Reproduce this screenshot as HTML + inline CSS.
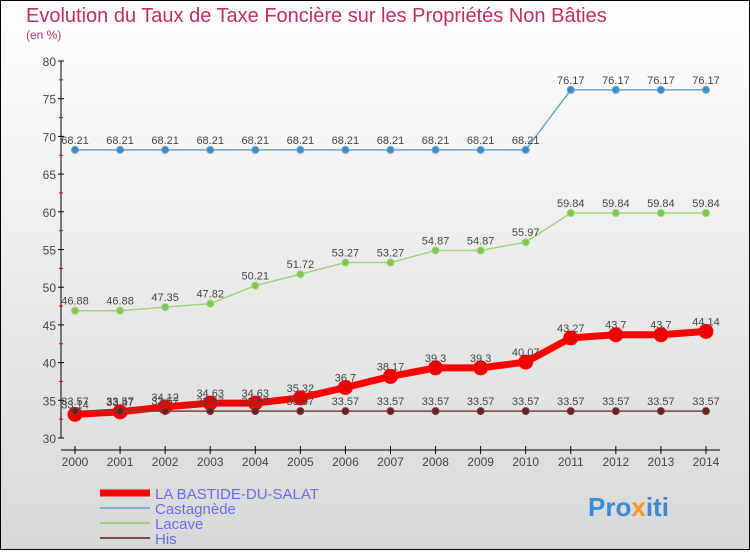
<!DOCTYPE html>
<html><head><meta charset="utf-8"><style>
body{margin:0;}
#c{width:750px;height:550px;position:relative;font-family:"Liberation Sans",sans-serif;}
</style></head><body>
<div id="c">
<svg id="s" width="750" height="550" xmlns="http://www.w3.org/2000/svg">
<defs><linearGradient id="bg" x1="0" y1="0" x2="0" y2="1"><stop offset="0" stop-color="#ffffff"/><stop offset="1" stop-color="#d8d8d8"/></linearGradient></defs>
<rect x="0.5" y="0.5" width="749" height="549" fill="url(#bg)" stroke="#000"/>
<text x="26" y="22" font-size="20" fill="#c0305f">Evolution du Taux de Taxe Foncière sur les Propriétés Non Bâties</text>
<text x="26" y="39" font-size="12" fill="#c0305f">(en %)</text>
<g id="g"></g>
<text x="588" y="516" font-size="26" font-weight="bold" fill="#3a8ad6">Pro<tspan fill="#f29a1e">x</tspan>iti</text>
</svg></div>
<script>
const years=[2000,2001,2002,2003,2004,2005,2006,2007,2008,2009,2010,2011,2012,2013,2014];
const bastide=[33.14,33.47,34.12,34.63,34.63,35.32,36.7,38.17,39.3,39.3,40.07,43.27,43.7,43.7,44.14];
const castagnede=[68.21,68.21,68.21,68.21,68.21,68.21,68.21,68.21,68.21,68.21,68.21,76.17,76.17,76.17,76.17];
const lacave=[46.88,46.88,47.35,47.82,50.21,51.72,53.27,53.27,54.87,54.87,55.97,59.84,59.84,59.84,59.84];
const his=[33.57,33.57,33.57,33.57,33.57,33.57,33.57,33.57,33.57,33.57,33.57,33.57,33.57,33.57,33.57];
const yTicks=[30,35,40,45,50,55,60,65,70,75,80];
const NS="http://www.w3.org/2000/svg",g=document.getElementById('g');
const X=i=>75+i*45.07, Y=v=>438-(v-30)*7.54;
function mk(t,a){const e=document.createElementNS(NS,t);for(const k in a)e.setAttribute(k,a[k]);g.appendChild(e);return e;}
let e;
e=mk('line',{x1:61,y1:61,x2:61,y2:438,stroke:'#000'});


e=mk('line',{x1:61,y1:450,x2:720,y2:450,stroke:'#000'});


yTicks.forEach(v=>{
 e=mk('line',{x1:58,x2:64,y1:Y(v),y2:Y(v),stroke:'#000'});
 
 
 e=mk('text',{x:56,y:Y(v)+5,'text-anchor':'end','font-size':12,fill:'#444'});e.textContent=v;
 
 
 if(v<80){e=mk('line',{x1:59,x2:63,y1:Y(v+2.5),y2:Y(v+2.5),stroke:'#d00'});
 
 }
});
years.forEach((y,i)=>{
 e=mk('line',{x1:X(i),x2:X(i),y1:446,y2:454,stroke:'#000'});
 
 
 e=mk('text',{x:X(i),y:466,'text-anchor':'middle','font-size':12,fill:'#444'});e.textContent=y;
 
 
});
function series(d,color,w,r,dot,name){
 e=mk('polyline',{points:d.map((v,i)=>X(i)+','+Y(v)).join(' '),fill:'none',stroke:color,'stroke-width':w});
 
 
 d.forEach((v,i)=>{
  e=mk('circle',{cx:X(i),cy:Y(v),r:r,fill:dot,stroke:color});
  
  
  e=mk('text',{x:X(i),y:Y(v)-6,'text-anchor':'middle','font-size':11,fill:'#444'});e.textContent=v;
  
  
 });
}
series(castagnede,'#6fa3c9',1.5,3.5,'#3d8bc7','castagnede');
series(lacave,'#9fd27a',1.5,3.5,'#7cc84a','lacave');
series(bastide,'#f00',7,7,'#e00','bastide');
series(his,'#7a4040',1.5,3.5,'#6a2020','his');
const leg=[['LA BASTIDE-DU-SALAT','#f00',7],['Castagnède','#7ab0d0',2],['Lacave','#9fd27a',2],['His','#7a4a4a',2]];
leg.forEach((l,i)=>{
 const y=493+i*15;
 e=mk('line',{x1:100,x2:150,y1:y,y2:y,stroke:l[1],'stroke-width':l[2]});
 
 
 e=mk('text',{x:155,y:y+6,'font-size':15,fill:'#6b6bf0'});e.textContent=l[0];
 
 
});
</script>
</body></html>
